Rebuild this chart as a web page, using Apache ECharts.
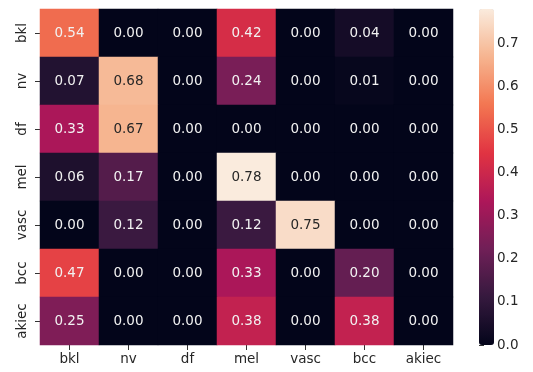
<!DOCTYPE html>
<html>
<head>
<meta charset="utf-8">
<script src="https://cdn.jsdelivr.net/npm/echarts@6/dist/echarts.min.js"></script>
<style>
  html, body { margin: 0; padding: 0; background: #ffffff; }
  #chart { width: 533px; height: 372px; }
</style>
</head>
<body>
<div id="chart"></div>
<script>
// Class labels (rows = true class, columns = predicted class)
const classes = ['bkl', 'nv', 'df', 'mel', 'vasc', 'bcc', 'akiec'];

// Normalised confusion matrix, one array per row
const rowBkl   = [0.54, 0.00, 0.00, 0.42, 0.00, 0.04, 0.00];
const rowNv    = [0.07, 0.68, 0.00, 0.24, 0.00, 0.01, 0.00];
const rowDf    = [0.33, 0.67, 0.00, 0.00, 0.00, 0.00, 0.00];
const rowMel   = [0.06, 0.17, 0.00, 0.78, 0.00, 0.00, 0.00];
const rowVasc  = [0.00, 0.12, 0.00, 0.12, 0.75, 0.00, 0.00];
const rowBcc   = [0.47, 0.00, 0.00, 0.33, 0.00, 0.20, 0.00];
const rowAkiec = [0.25, 0.00, 0.00, 0.38, 0.00, 0.38, 0.00];
const matrix = [rowBkl, rowNv, rowDf, rowMel, rowVasc, rowBcc, rowAkiec];

// Colour bar tick values
const barTicks = [0.0, 0.1, 0.2, 0.3, 0.4, 0.5, 0.6, 0.7];

// "rocket" colour ramp
const rocket = ['#03051a', '#35193e', '#701f57', '#ad1759', '#e13342', '#f37651', '#f6b48f', '#faebdd'];

const vMin = 0;
const vMax = Math.max(...matrix.flat());

const textFont = 'DejaVu Sans';
const fs = 13.5;
const ink = '#262626';

const data = [];
matrix.forEach((row, r) => {
  row.forEach((v, c) => {
    const light = v / vMax > 0.8;
    data.push({
      value: [c, r, v],
      label: { color: light ? ink : '#f2f2f2' }
    });
  });
});

// Plot and colour-bar placement (whole-pixel cells avoid seams)
const plot = { left: 40, top: 9, width: 413, height: 336 };
const bar = { left: 479, top: 9, width: 15, height: 336 };

const chart = echarts.init(document.getElementById('chart'), null, { renderer: 'canvas' });
chart.setOption({
  backgroundColor: '#ffffff',
  animation: false,
  textStyle: { fontFamily: textFont },
  grid: [
    { left: plot.left, top: plot.top, width: plot.width, height: plot.height },
    { left: bar.left, top: bar.top, width: bar.width, height: bar.height }
  ],
  xAxis: [
    {
      type: 'category', gridIndex: 0, data: classes,
      axisLine: { show: false },
      axisTick: { show: true, alignWithLabel: true, length: 5, lineStyle: { color: '#333' } },
      axisLabel: { color: ink, fontSize: fs, fontFamily: textFont, margin: 7 },
      splitLine: { show: false }
    },
    { type: 'value', gridIndex: 1, show: false, min: 0, max: 1 }
  ],
  yAxis: [
    {
      type: 'category', gridIndex: 0, data: classes, inverse: true,
      axisLine: { show: false },
      axisTick: { show: true, alignWithLabel: true, length: 5, lineStyle: { color: '#333' } },
      axisLabel: { color: ink, fontSize: fs, fontFamily: textFont, rotate: 90, margin: 11 },
      splitLine: { show: false }
    },
    {
      type: 'value', gridIndex: 1, position: 'right', min: vMin, max: vMax,
      axisLine: { show: false },
      axisTick: { show: true, length: 5, customValues: barTicks, lineStyle: { color: '#333' } },
      axisLabel: {
        color: ink, fontSize: fs, fontFamily: textFont, margin: 3,
        customValues: barTicks,
        formatter: v => v.toFixed(1)
      },
      splitLine: { show: false }
    }
  ],
  visualMap: {
    type: 'continuous',
    seriesIndex: 0,
    min: vMin, max: vMax,
    calculable: false,
    hoverLink: false,
    text: null,
    left: bar.left, top: bar.top, padding: 0,
    itemWidth: bar.width, itemHeight: bar.height,
    handleSize: 0,
    indicatorSize: 0,
    handleStyle: { opacity: 0 },
    indicatorStyle: { opacity: 0 },
    inRange: { color: rocket },
    showLabel: false
  },
  series: [
    {
      type: 'heatmap',
      xAxisIndex: 0, yAxisIndex: 0,
      data: data,
      itemStyle: { borderWidth: 0 },
      label: {
        show: true, fontSize: fs, fontFamily: textFont,
        formatter: p => p.value[2].toFixed(2)
      },
      emphasis: { disabled: true }
    }
  ]
});
</script>
</body>
</html>
